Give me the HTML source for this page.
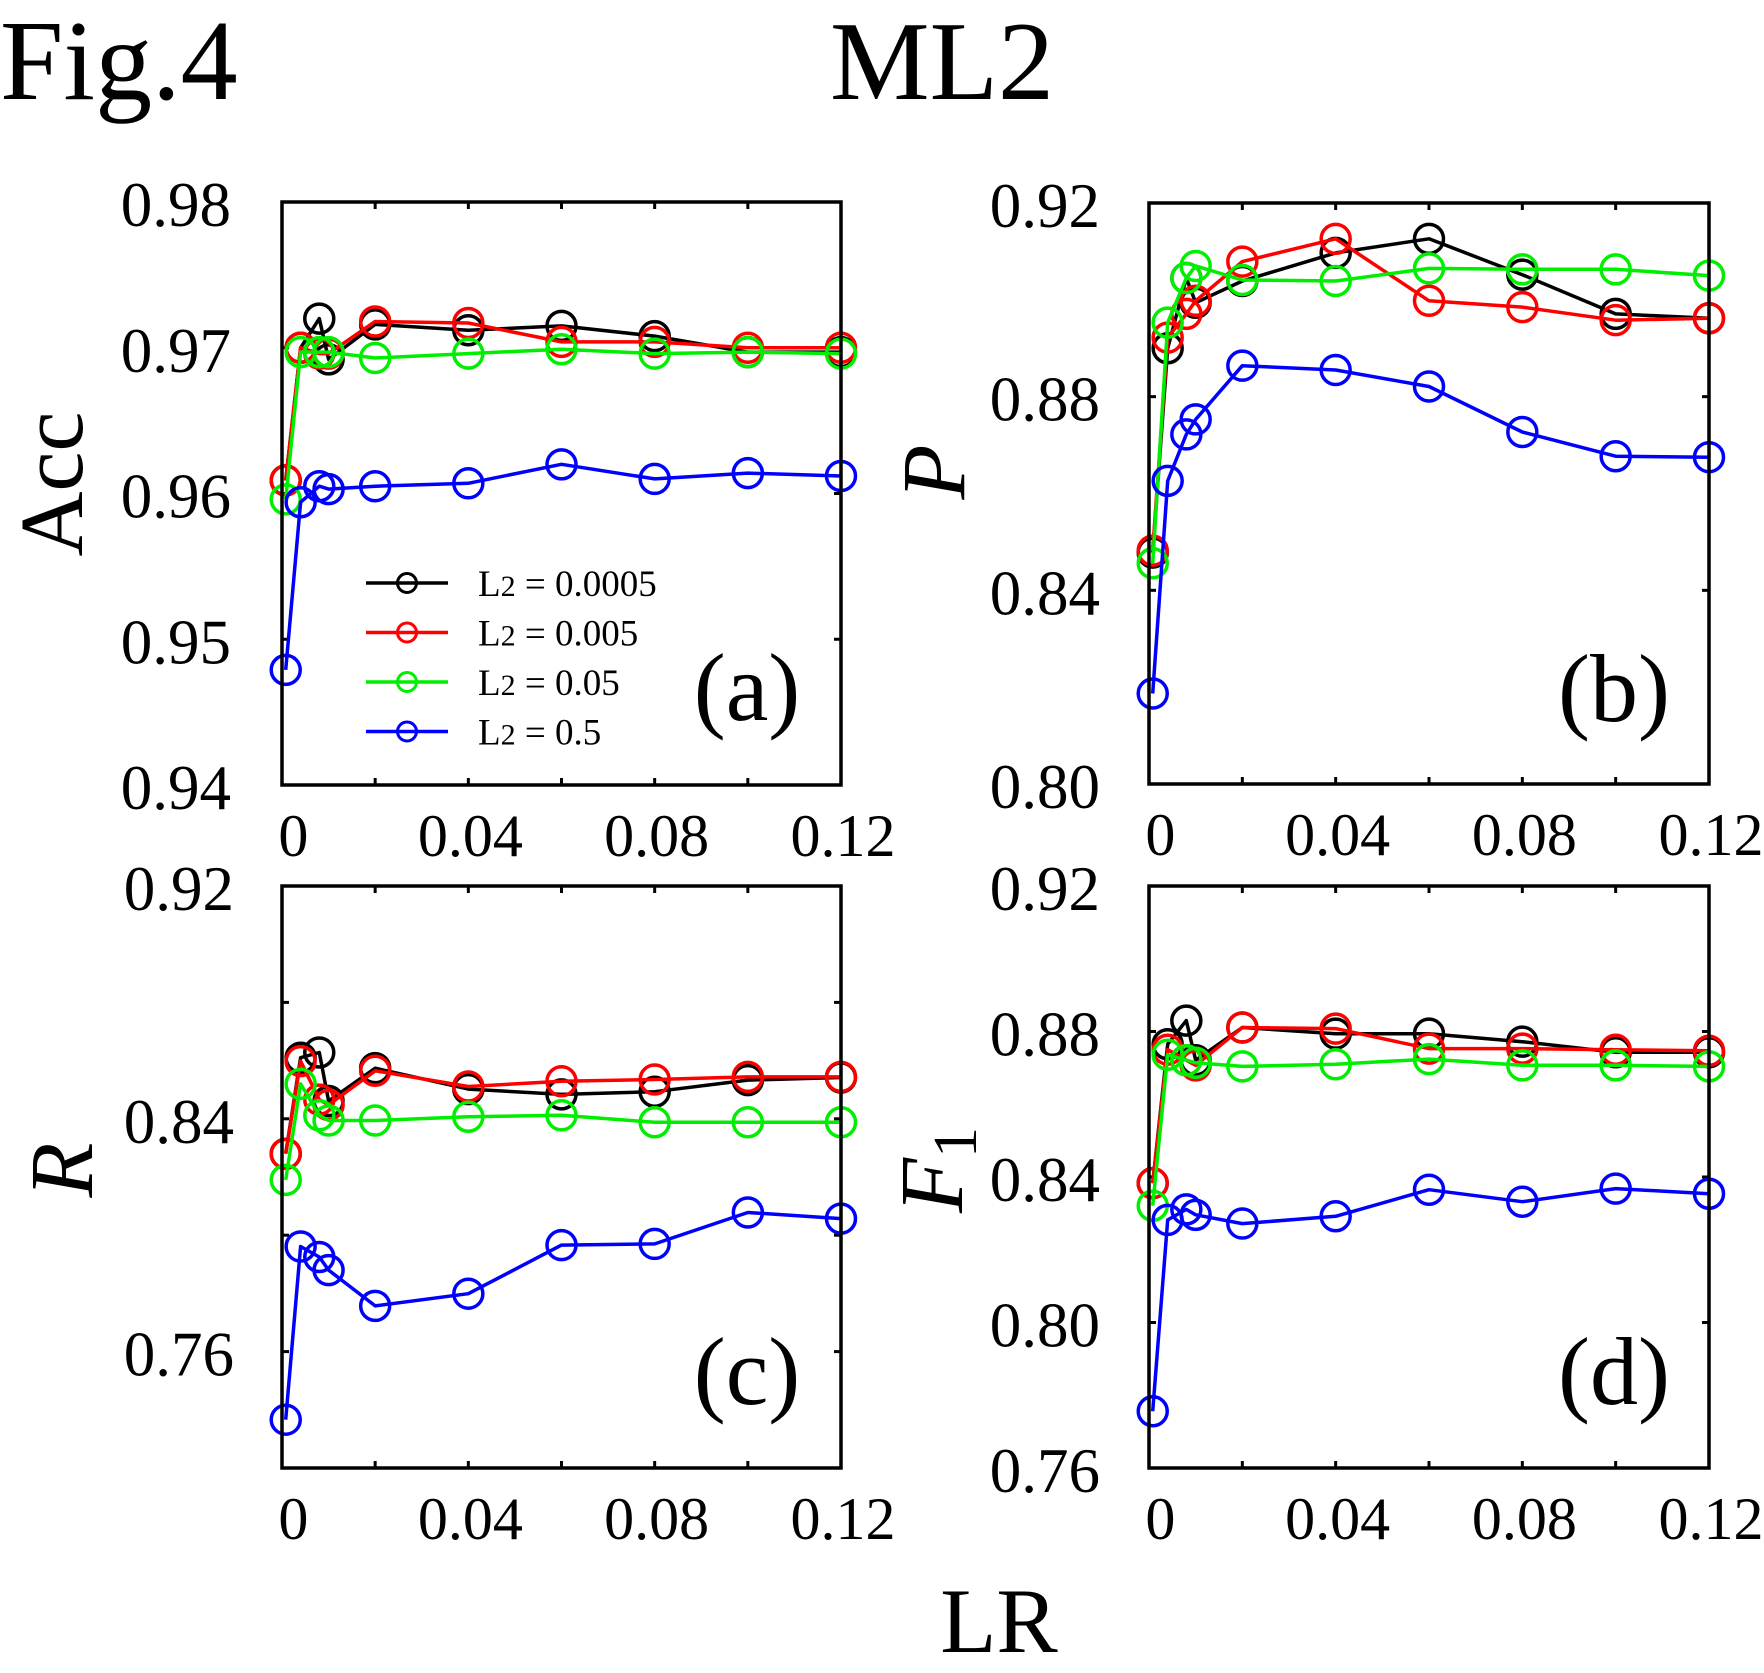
<!DOCTYPE html>
<html><head><meta charset="utf-8">
<style>
html,body{margin:0;padding:0;background:#fff;}
svg{display:block;font-family:"Liberation Serif","DejaVu Serif",serif;}
</style></head>
<body>
<svg id="fig" width="1764" height="1673" viewBox="0 0 1764 1673" xmlns="http://www.w3.org/2000/svg">
<text x="0" y="99" font-size="114">Fig.4</text>
<text x="942" y="99" font-size="112" text-anchor="middle">ML2</text>
<text x="999" y="1652" font-size="92" text-anchor="middle">LR</text>
<text transform="translate(82,484) rotate(-90)" font-size="90" text-anchor="middle">Acc</text>
<text transform="translate(964,472) rotate(-90)" font-size="90" text-anchor="middle" font-style="italic">P</text>
<text transform="translate(92,1170) rotate(-90)" font-size="90" text-anchor="middle" font-style="italic">R</text>
<text transform="translate(962,1170) rotate(-90)" font-size="90" text-anchor="middle"><tspan font-style="italic">F</tspan><tspan font-size="62" dy="14">1</tspan></text>
</svg>
<script>
const lr = [0.0008, 0.004, 0.008, 0.01, 0.02, 0.04, 0.06, 0.08, 0.10, 0.12];
const seriesNames = ["0.0005", "0.005", "0.05", "0.5"];
const seriesColors = ["#000000", "#ff0000", "#00ee00", "#0000ff"];
const xTickLabels = ["0", "0.04", "0.08", "0.12"];
const xTickValues = [0.002, 0.04, 0.08, 0.12];

const accBlack = [0.9609, 0.9700, 0.9720, 0.9692, 0.9716, 0.9712, 0.9715, 0.9708, 0.9697, 0.9697];
const accRed   = [0.9609, 0.9700, 0.9696, 0.9696, 0.9718, 0.9717, 0.9704, 0.9704, 0.9700, 0.9700];
const accGreen = [0.9596, 0.9697, 0.9697, 0.9697, 0.9693, 0.9696, 0.9699, 0.9696, 0.9697, 0.9696];
const accBlue  = [0.9479, 0.9594, 0.9605, 0.9603, 0.9605, 0.9607, 0.9620, 0.9610, 0.9614, 0.9612];

const pBlack = [0.8478, 0.8900, 0.9045, 0.8994, 0.9039, 0.9097, 0.9126, 0.9052, 0.8971, 0.8962];
const pRed   = [0.8482, 0.8922, 0.8971, 0.8998, 0.9079, 0.9126, 0.8998, 0.8985, 0.8958, 0.8962];
const pGreen = [0.8456, 0.8953, 0.9045, 0.9070, 0.9041, 0.9039, 0.9065, 0.9063, 0.9063, 0.9050];
const pBlue  = [0.8187, 0.8626, 0.8722, 0.8753, 0.8864, 0.8855, 0.8821, 0.8727, 0.8677, 0.8675];

const rBlack = [0.8280, 0.8610, 0.8628, 0.8461, 0.8574, 0.8502, 0.8484, 0.8493, 0.8533, 0.8542];
const rRed   = [0.8280, 0.8598, 0.8466, 0.8448, 0.8565, 0.8511, 0.8529, 0.8535, 0.8544, 0.8544];
const rGreen = [0.8190, 0.8520, 0.8412, 0.8394, 0.8394, 0.8407, 0.8412, 0.8388, 0.8388, 0.8388];
const rBlue  = [0.7366, 0.7961, 0.7925, 0.7880, 0.7757, 0.7799, 0.7966, 0.7970, 0.8078, 0.8057];

const fBlack = [0.8383, 0.8765, 0.8830, 0.8721, 0.8811, 0.8794, 0.8794, 0.8772, 0.8743, 0.8743];
const fRed   = [0.8383, 0.8750, 0.8721, 0.8707, 0.8811, 0.8808, 0.8753, 0.8753, 0.8750, 0.8747];
const fGreen = [0.8321, 0.8736, 0.8721, 0.8714, 0.8704, 0.8710, 0.8724, 0.8707, 0.8707, 0.8704];
const fBlue  = [0.7756, 0.8282, 0.8311, 0.8296, 0.8272, 0.8292, 0.8365, 0.8332, 0.8368, 0.8354];

const accTicks = [0.94, 0.95, 0.96, 0.97, 0.98];
const accTickLabels = ["0.94", "0.95", "0.96", "0.97", "0.98"];
const pTicks = [0.80, 0.84, 0.88, 0.92];
const pTickLabels = ["0.80", "0.84", "0.88", "0.92"];
const rTicks = [0.76, 0.80, 0.84, 0.88, 0.92];
const rTickLabelValues = [0.76, 0.84, 0.92];
const rTickLabels = ["0.76", "0.84", "0.92"];
const fTicks = [0.76, 0.80, 0.84, 0.88, 0.92];
const fTickLabels = ["0.76", "0.80", "0.84", "0.88", "0.92"];

const NS = "http://www.w3.org/2000/svg";
const svg = document.getElementById("fig");
function mk(tag, attrs, parent) {
  const e = document.createElementNS(NS, tag);
  for (const k in attrs) e.setAttribute(k, attrs[k]);
  (parent || svg).appendChild(e);
  return e;
}

const panels = [
  {id:"a", x0:282, x1:841, y0:202, y1:785, ymin:0.94, ymax:0.98, series:[accBlack, accRed, accGreen, accBlue], ticks:accTicks, tlv:accTicks, tl:accTickLabels, lx:231, label:"(a)", legend:true},
  {id:"b", x0:1149, x1:1709, y0:203, y1:784, ymin:0.80, ymax:0.92, series:[pBlack, pRed, pGreen, pBlue], ticks:pTicks, tlv:pTicks, tl:pTickLabels, lx:1100, label:"(b)"},
  {id:"c", x0:282, x1:841, y0:886, y1:1468, ymin:0.72, ymax:0.92, series:[rBlack, rRed, rGreen, rBlue], ticks:rTicks, tlv:rTickLabelValues, tl:rTickLabels, lx:234, label:"(c)"},
  {id:"d", x0:1149, x1:1709, y0:886, y1:1468, ymin:0.76, ymax:0.92, series:[fBlack, fRed, fGreen, fBlue], ticks:fTicks, tlv:fTicks, tl:fTickLabels, lx:1100, label:"(d)"}
];

panels.forEach(p => {
  const g = mk("g", {});
  
  
  const sx = v => p.x0 + (v - 0) / 0.12 * (p.x1 - p.x0);
  const sy = v => p.y1 - (v - p.ymin) / (p.ymax - p.ymin) * (p.y1 - p.y0);

  for (let k = 1; k < 6; k++) {
    const xv = k * 0.02, X = sx(xv);
    const t1 = mk("line", {x1:X, x2:X, y1:p.y1, y2:p.y1-7, stroke:"#000", "stroke-width":3}, g);
    
    
    const t2 = mk("line", {x1:X, x2:X, y1:p.y0, y2:p.y0+7, stroke:"#000", "stroke-width":3}, g);
    
    
  }
  xTickLabels.forEach((s, i) => {
    const t = mk("text", {x: sx(xTickValues[i]) + 2, y: p.y1 + 71, "font-size": 60, "text-anchor": "middle"}, g);
    t.textContent = s;
    
    
  });
  p.ticks.forEach(v => {
    const Y = sy(v);
    const a = mk("line", {x1:p.x0, x2:p.x0+7, y1:Y, y2:Y, stroke:"#000", "stroke-width":3}, g);
    
    
    const b = mk("line", {x1:p.x1, x2:p.x1-7, y1:Y, y2:Y, stroke:"#000", "stroke-width":3}, g);
    
    
  });
  p.tl.forEach((s, i) => {
    const t = mk("text", {x: p.lx, y: sy(p.tlv[i]) + 24, "font-size": 63, "text-anchor": "end"}, g);
    t.textContent = s;
    
    
  });

  p.series.forEach((vals, si) => {
    const sg = mk("g", {}, g);
    
    
    const pts = vals.map((v, i) => sx(lr[i]).toFixed(1) + "," + sy(v).toFixed(1)).join(" ");
    const pl = mk("polyline", {points: pts, fill:"none", stroke: seriesColors[si], "stroke-width": 3.5, "stroke-linejoin":"round"}, sg);
    
    
    vals.forEach((v, i) => {
      const c = mk("circle", {cx: sx(lr[i]), cy: sy(v), r: 14.5, fill:"none", stroke: seriesColors[si], "stroke-width": 3.5}, sg);
      
      
    });
  });

  const fr = mk("rect", {x:p.x0, y:p.y0, width:p.x1-p.x0, height:p.y1-p.y0, fill:"none", stroke:"#000", "stroke-width":3.5}, g);
  
  

  const pl = mk("text", {x: p.x0 + 465, y: p.y0 + 518, "font-size": 96, "text-anchor": "middle"}, g);
  pl.textContent = p.label;
  
  

  if (p.legend) {
    const lg = mk("g", {}, g);
    
    
    seriesNames.forEach((nm, i) => {
      const Y = 583 + i * 49.5;
      const e = mk("g", {}, lg);
      
      
      mk("line", {x1:366, x2:448, y1:Y, y2:Y, stroke:seriesColors[i], "stroke-width":3.5}, e);
      mk("circle", {cx:407, cy:Y, r:9.5, fill:"none", stroke:seriesColors[i], "stroke-width":3}, e);
      const t = mk("text", {x:478, y:Y + 13, "font-size": 37}, e);
      t.textContent = "L";
      const sub = mk("tspan", {"font-size": 30}, t);
      sub.textContent = "2";
      const rest = mk("tspan", {}, t);
      rest.textContent = " = " + nm;
    });
  }
});
</script>
</body></html>
